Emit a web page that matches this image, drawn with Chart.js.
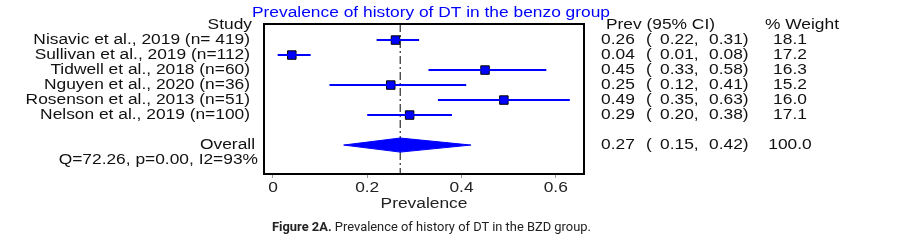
<!DOCTYPE html>
<html>
<head>
<meta charset="utf-8">
<script src="https://cdn.jsdelivr.net/npm/chart.js@4"></script>
<style>
  body { margin: 0; background: #fff; }
  #wrap { position: relative; width: 904px; height: 245px; }
  #caption {
    position: absolute; left: 272px; top: 218px;
    font-family: Roboto, sans-serif; font-size: 13.5px; color: #222;
    white-space: nowrap; transform: scaleX(0.955); transform-origin: left top;
  }
</style>
</head>
<body>
<div id="wrap">
  <canvas id="forest" width="904" height="245"></canvas>
  <div id="caption"><b>Figure 2A.</b> Prevalence of history of DT in the BZD group.</div>
</div>
<script>
// study rows
const studies = [
  'Nisavic et al., 2019 (n= 419)',
  'Sullivan et al., 2019 (n=112)',
  'Tidwell et al., 2018 (n=60)',
  'Nguyen et al., 2020 (n=36)',
  'Rosenson et al., 2013 (n=51)',
  'Nelson et al., 2019 (n=100)'
];
const prev = [0.26, 0.04, 0.45, 0.25, 0.49, 0.29];
const ciLow = [0.22, 0.01, 0.33, 0.12, 0.35, 0.20];
const ciHigh = [0.31, 0.08, 0.58, 0.41, 0.63, 0.38];
const weights = ['18.1', '17.2', '16.3', '15.2', '16.0', '17.1'];

// pooled estimate
const overall = { est: 0.27, lo: 0.15, hi: 0.42, weight: '100.0' };
const hetText = 'Q=72.26, p=0.00, I2=93%';

const xTicks = [0, 0.2, 0.4, 0.6];
const titleText = 'Prevalence of history of DT in the benzo group';
const xTitle = 'Prevalence';

const overallRow = studies.length + 1;
const blue = '#0000ff';
const textColor = '#111';
const font = '14px "Liberation Sans", Arial, sans-serif';
const stretch = 1.24; // the original figure is stretched sideways

const datasets = [];

// CI lines
studies.forEach((s, i) => {
  datasets.push({
    data: [{ x: ciLow[i], y: i }, { x: ciHigh[i], y: i }],
    showLine: true, borderColor: blue, borderWidth: 2, pointRadius: 0
  });
});

// pooled diamond
datasets.push({
  data: [
    { x: overall.lo, y: overallRow },
    { x: overall.est, y: overallRow - 0.47 },
    { x: overall.hi, y: overallRow },
    { x: overall.est, y: overallRow + 0.47 },
    { x: overall.lo, y: overallRow }
  ],
  showLine: true, fill: 'shape', tension: 0,
  borderColor: blue, backgroundColor: blue, borderWidth: 1, pointRadius: 0
});

// pooled reference line
datasets.push({
  data: [{ x: overall.est, y: -1.07 }, { x: overall.est, y: 8.93 }],
  showLine: true, borderColor: '#000', borderWidth: 1,
  borderDash: [8, 3, 2, 3], pointRadius: 0
});

// point estimates
datasets.push({
  data: prev.map((p, i) => ({ x: p, y: i })),
  pointStyle: 'rect', pointRadius: 6, backgroundColor: blue,
  borderColor: '#000', borderWidth: 1
});

function drawText(ctx, str, x, y, align, color) {
  ctx.save();
  ctx.translate(x, y);
  ctx.scale(stretch, 1);
  ctx.textAlign = align;
  ctx.fillStyle = color || textColor;
  ctx.fillText(str, 0, 0);
  ctx.restore();
}

const textPlugin = {
  id: 'forestText',
  afterDatasetsDraw(chart) {
    const { ctx, chartArea, scales } = chart;
    const yAt = v => scales.y.getPixelForValue(v);
    ctx.save();
    // frame
    ctx.strokeStyle = '#000';
    ctx.lineWidth = 2;
    ctx.strokeRect(chartArea.left, chartArea.top, chartArea.right - chartArea.left, chartArea.bottom - chartArea.top);

    ctx.font = font;
    ctx.textBaseline = 'middle';

    drawText(ctx, titleText, 431, 13, 'center', blue);

    drawText(ctx, 'Study', 252, 25, 'right');
    studies.forEach((s, i) => drawText(ctx, s, 250, yAt(i), 'right'));
    drawText(ctx, 'Overall', 255, yAt(overallRow), 'right');
    drawText(ctx, hetText, 258, yAt(overallRow + 1), 'right');

    drawText(ctx, 'Prev (95% CI)', 606, 25, 'left');
    drawText(ctx, '% Weight', 765, 25, 'left');
    const row = (y, p, lo, hi, w) => {
      drawText(ctx, p.toFixed(2), 601, y, 'left');
      drawText(ctx, '(', 646, y, 'left');
      drawText(ctx, lo.toFixed(2) + ',', 660, y, 'left');
      drawText(ctx, hi.toFixed(2) + ')', 709, y, 'left');
      drawText(ctx, w, 790, y, 'center');
    };
    studies.forEach((s, i) => row(yAt(i), prev[i], ciLow[i], ciHigh[i], weights[i]));
    row(yAt(overallRow), overall.est, overall.lo, overall.hi, overall.weight);

    // x axis labels placed by the x scale
    scales.x.ticks.forEach(t => {
      drawText(ctx, String(t.value), scales.x.getPixelForValue(t.value), 188, 'center', '#222');
    });
    drawText(ctx, xTitle, (chartArea.left + chartArea.right) / 2, 204, 'center', '#222');
    ctx.restore();
  }
};

new Chart(document.getElementById('forest'), {
  type: 'scatter',
  data: { datasets },
  options: {
    responsive: false,
    animation: false,
    layout: { padding: { left: 264, right: 320, top: 24, bottom: 31 } },
    plugins: { legend: { display: false }, tooltip: { enabled: false }, title: { display: false } },
    scales: {
      x: {
        type: 'linear', min: -0.019, max: 0.66,
        grid: { display: true, drawOnChartArea: false, drawTicks: true, tickLength: 4, color: '#999', lineWidth: 1 },
        border: { display: false },
        afterBuildTicks: scale => { scale.ticks = xTicks.map(v => ({ value: v })); },
        afterFit: scale => { scale.height = 40; },
        ticks: { display: false, padding: 0 }
      },
      y: {
        type: 'linear', min: -1.07, max: 8.93, reverse: true, display: false
      }
    }
  },
  plugins: [textPlugin]
});
</script>
</body>
</html>
